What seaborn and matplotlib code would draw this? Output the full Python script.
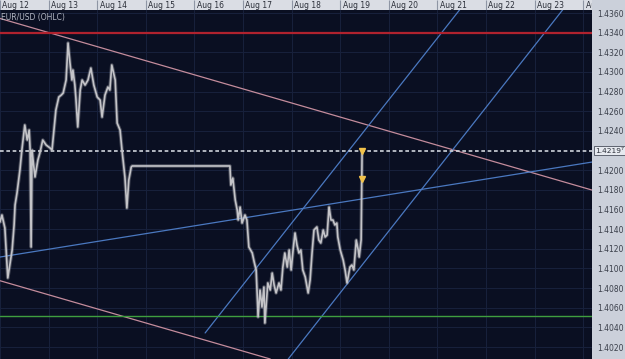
import matplotlib
matplotlib.use("Agg")
import matplotlib.pyplot as plt
import seaborn as sns
import pandas as pd

# ---------------- data ----------------
day_ticks = [12, 13, 14, 15, 16, 17, 18, 19, 20, 21, 22, 23, 24]
day_labels = ["Aug 12", "Aug 13", "Aug 14", "Aug 15", "Aug 16", "Aug 17", "Aug 18",
              "Aug 19", "Aug 20", "Aug 21", "Aug 22", "Aug 23", "Aug 24"]
price_ticks = [1.4020, 1.4040, 1.4060, 1.4080, 1.4100, 1.4120, 1.4140, 1.4160, 1.4180,
               1.4200, 1.4240, 1.4260, 1.4280, 1.4300, 1.4320, 1.4340, 1.4360]

days = [12.00, 12.04, 12.10, 12.16, 12.25, 12.29, 12.31, 12.35, 12.41, 12.45,
        12.51, 12.56, 12.60, 12.62, 12.64, 12.66, 12.68, 12.72, 12.78, 12.82,
        12.88, 12.95, 13.03, 13.07, 13.11, 13.15, 13.21, 13.26, 13.30, 13.36,
        13.40, 13.44, 13.48, 13.50, 13.54, 13.56, 13.60, 13.65, 13.69, 13.75,
        13.81, 13.87, 13.93, 14.00, 14.06, 14.10, 14.16, 14.22, 14.26, 14.30,
        14.37, 14.41, 14.47, 14.51, 14.57, 14.61, 14.65, 14.70, 14.72, 16.73,
        16.75, 16.79, 16.84, 16.88, 16.90, 16.94, 16.98, 17.04, 17.08, 17.12,
        17.19, 17.23, 17.27, 17.29, 17.31, 17.35, 17.39, 17.43, 17.45, 17.51,
        17.56, 17.60, 17.64, 17.68, 17.74, 17.78, 17.82, 17.86, 17.91, 17.95,
        17.99, 18.03, 18.07, 18.11, 18.15, 18.19, 18.23, 18.28, 18.34, 18.38,
        18.42, 18.46, 18.52, 18.56, 18.60, 18.65, 18.69, 18.73, 18.77, 18.81,
        18.85, 18.89, 18.93, 18.95, 19.00, 19.06, 19.10, 19.14, 19.20, 19.24,
        19.28, 19.33, 19.37, 19.39, 19.43, 19.45]
prices = [1.41473, 1.41544, 1.41412, 1.40903, 1.41188, 1.41442, 1.41646, 1.41768, 1.42002, 1.42205,
          1.42460, 1.42307, 1.42409, 1.42205, 1.41218, 1.42205, 1.42104, 1.41931, 1.42104, 1.42175,
          1.42307, 1.42256, 1.42226, 1.42205, 1.42409, 1.42613, 1.42745, 1.42765, 1.42786, 1.42918,
          1.43295, 1.43091, 1.42918, 1.43020, 1.42867, 1.42745, 1.42440, 1.42816, 1.42918, 1.42867,
          1.42918, 1.43040, 1.42867, 1.42745, 1.42714, 1.42541, 1.42765, 1.42847, 1.42816, 1.43071,
          1.42918, 1.42480, 1.42409, 1.42205, 1.41931, 1.41615, 1.41900, 1.42032, 1.42043, 1.42043,
          1.41849, 1.41920, 1.41696, 1.41595, 1.41493, 1.41625, 1.41462, 1.41544, 1.41493, 1.41218,
          1.41157, 1.41065, 1.40984, 1.40750, 1.40506, 1.40780, 1.40607, 1.40811, 1.40444, 1.40852,
          1.40780, 1.40953, 1.40831, 1.40750, 1.40852, 1.40780, 1.41014, 1.41157, 1.41014, 1.41188,
          1.40984, 1.41188, 1.41361, 1.41238, 1.41157, 1.41188, 1.40984, 1.40913, 1.40750, 1.40882,
          1.41157, 1.41391, 1.41422, 1.41289, 1.41259, 1.41391, 1.41320, 1.41340, 1.41625, 1.41493,
          1.41493, 1.41442, 1.41462, 1.41320, 1.41188, 1.41086, 1.40984, 1.40852, 1.41014, 1.41035,
          1.40984, 1.41289, 1.41188, 1.41116, 1.41289, 1.42197]

red_level = 1.4340
green_level = 1.4052
last_price = 1.42197
last_price_label = "1.4219\u2077"
marker_days = [19.45, 19.45]
marker_prices = [1.42197, 1.41910]

pink_upper_days = [12.0, 24.18]
pink_upper_prices = [1.43545, 1.41798]
pink_lower_days = [12.0, 17.56]
pink_lower_prices = [1.40875, 1.40078]
blue_base_days = [12.0, 24.18]
blue_base_prices = [1.41116, 1.42083]
channel_a_days = [16.22, 21.50]
channel_a_prices = [1.40343, 1.43660]
channel_b_days = [17.93, 23.62]
channel_b_prices = [1.40078, 1.43660]

# ---------------- style ----------------
BG = "#0a0f22"
GRID = "#18213c"
PANEL = "#cbd0da"
BAR = "#dadde4"

sns.set_style("dark")
plt.rcParams['font.family'] = ['DejaVu Sans']

fig = plt.figure(figsize=(6.25, 3.59), dpi=100, facecolor=PANEL)
ax = fig.add_axes([0, 0, 592 / 625, 349 / 359])
ax.set_facecolor(BG)

xlim = (12.0, 24.18)
ylim = (1.40078, 1.43631)

# grid
ax.set_xticks(day_ticks)
ax.set_yticks(price_ticks)
ax.grid(True, color=GRID, lw=0.7)
ax.set_axisbelow(True)

# trend lines
ax.plot(pink_upper_days, pink_upper_prices, color="#c48c9c", lw=0.9)
ax.plot(pink_lower_days, pink_lower_prices, color="#c48c9c", lw=0.9)
ax.plot(blue_base_days, blue_base_prices, color="#4a78c0", lw=0.9)
ax.plot(channel_a_days, channel_a_prices, color="#4a78c0", lw=0.9)
ax.plot(channel_b_days, channel_b_prices, color="#4a78c0", lw=0.9)
ax.axhline(red_level, color="#b0222e", lw=1.6)
ax.axhline(green_level, color="#3f9e3f", lw=1.0)
ax.axhline(last_price, color="#d0d4dc", lw=1.2, ls=(0, (2.2, 1.6)))

# price series (OHLC bars look: soft halo + core line)
df = pd.DataFrame({"day": days, "price": prices})
sns.lineplot(data=df, x="day", y="price", sort=False, estimator=None,
             color="#b8b8bc", lw=2.6, alpha=0.35, ax=ax)
sns.lineplot(data=df, x="day", y="price", sort=False, estimator=None,
             color="#c4c4c8", lw=1.2, ax=ax)
ax.plot(marker_days, marker_prices, ls="none", marker="v", ms=4,
        color="#f2c24a", markeredgecolor="#f2c24a")

ax.set_xlim(*xlim)
ax.set_ylim(*ylim)
ax.set_xlabel("")
ax.set_ylabel("")
for s in ax.spines.values():
    s.set_visible(False)

ax.tick_params(axis="x", length=0, labelbottom=False)
ax.yaxis.tick_right()
ax.set_yticklabels([f"{v:.4f}" for v in price_ticks])
ax.tick_params(axis="y", length=0, pad=4, labelsize=5.5, labelcolor="#3a3f4a")

ax.text(1 / 592, 1 - 3 / 349, "EUR/USD (OHLC)", transform=ax.transAxes,
        fontsize=5.5, color="#b4b8c4", va="top", ha="left")

ax.annotate(last_price_label, xy=(1.0, last_price), xycoords=ax.get_yaxis_transform(),
            xytext=(2.2, 0), textcoords="offset points", va="center", ha="left",
            fontsize=5.3, color="#2a2e38", annotation_clip=False,
            bbox=dict(boxstyle="square,pad=0.2", fc="#e6e9ef", ec="#4a505c", lw=0.6))

# top date bar
tb = fig.add_axes([0, 349 / 359, 592 / 625, 10 / 359])
tb.set_facecolor(BAR)
tb.set_xlim(*xlim)
tb.set_ylim(0, 1)
tb.vlines(day_ticks, 0, 1, color="#8e95a4", lw=0.8)
for d, lab in zip(day_ticks, day_labels):
    tb.text(d + 0.05, 0.45, lab, fontsize=5.5, color="#2a2e38",
            va="center", ha="left", clip_on=True)
tb.set_xticks([])
tb.set_yticks([])
for s in tb.spines.values():
    s.set_visible(False)

fig.savefig("out.png", dpi=100, facecolor=PANEL)
